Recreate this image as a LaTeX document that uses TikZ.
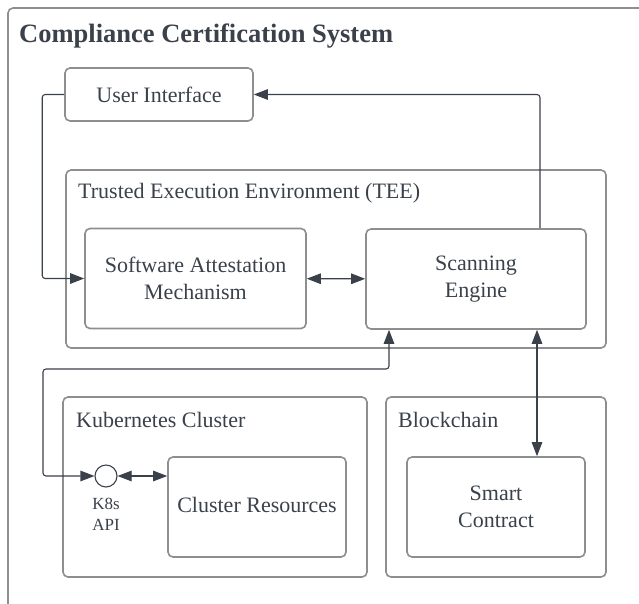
\documentclass[tikz,border=0pt]{standalone}
\usepackage{fontspec}
\setmainfont{Liberation Serif}
\usepackage{tikz}
\usetikzlibrary{arrows.meta,positioning}
\definecolor{boxgray}{HTML}{8E8E8E}
\definecolor{ink}{HTML}{3A414A}
\begin{document}
\begin{tikzpicture}[x=1pt,y=-1pt,>={Triangle[length=14pt,width=10.5pt]}]
% — styles ––––––––––––––––––––––––––
\tikzstyle{frame}=[draw=boxgray,line width=1.6pt,rounded corners=5pt]
\tikzstyle{block}=[frame,text=ink,align=center,inner sep=0pt,font=\fontsize{22}{27}\selectfont]
\tikzstyle{grouplbl}=[anchor=west,text=ink,inner sep=0pt,font=\fontsize{22}{27}\selectfont]
\tikzstyle{link}=[draw=ink,line width=1.1pt,rounded corners=3pt]

\useasboundingbox (0,0) rectangle (639,603);

% --- outer frame and title ------------------------------------
\draw[frame] (8,8) rectangle (700,700);
\node[grouplbl,font=\fontsize{26.5}{30}\selectfont\bfseries] (title) at (19,36) {Compliance Certification System};

% --- user interface -------------------------------------------
\node[block,minimum width=188pt,minimum height=53pt] (ui) at (159,94.5) {User Interface};

% --- trusted execution environment ----------------------------
\node[frame,minimum width=540pt,minimum height=178pt] (tee) at (336,259) {};
\node[grouplbl] (teelbl) at (78,193) {Trusted Execution Environment (TEE)};
\node[block,minimum width=221pt,minimum height=100pt] (sam) at (195.5,278.5) {Software Attestation\\Mechanism};
\node[block,minimum width=220pt,minimum height=100pt] (se) at (476,279) {Scanning\\Engine};

% --- kubernetes cluster ---------------------------------------
\node[frame,minimum width=304pt,minimum height=180pt] (k8s) at (215,487) {};
\node[grouplbl] (k8slbl) at (76,420) {Kubernetes Cluster};
\node[circle,draw=ink,line width=1.1pt,minimum size=22pt,inner sep=0pt] (api) at (106,476) {};
\node[below=10pt of api,text=ink,align=center,inner sep=0pt,font=\fontsize{17}{21}\selectfont] (apilbl) {K8s\\API};
\node[block,minimum width=178pt,minimum height=100pt] (res) at (257,507) {\raisebox{4pt}{Cluster Resources}};

% --- blockchain -----------------------------------------------
\node[frame,minimum width=220pt,minimum height=180pt] (chain) at (496,487) {};
\node[grouplbl] (chainlbl) at (398,420) {Blockchain};
\node[block,minimum width=178pt,minimum height=100pt] (sc) at (496,507) {Smart\\Contract};

% --- connectors -----------------------------------------------
\coordinate (kbend) at (43,369);
\draw[link,->] (540,0 |- se.north) |- (ui.east);
\draw[link,->] (ui.west) -- ++(-22,0) |- (sam.west);
\draw[link,<->] (sam) -- (se);
\draw[link,<->] (api.west) -| (kbend) -| (389,0 |- se.south);
\draw[link,<->] (api.east) -- (api.east -| res.west);
\draw[link,<->] (537,0 |- se.south) -- (537,0 |- sc.north);

\end{tikzpicture}
\end{document}
